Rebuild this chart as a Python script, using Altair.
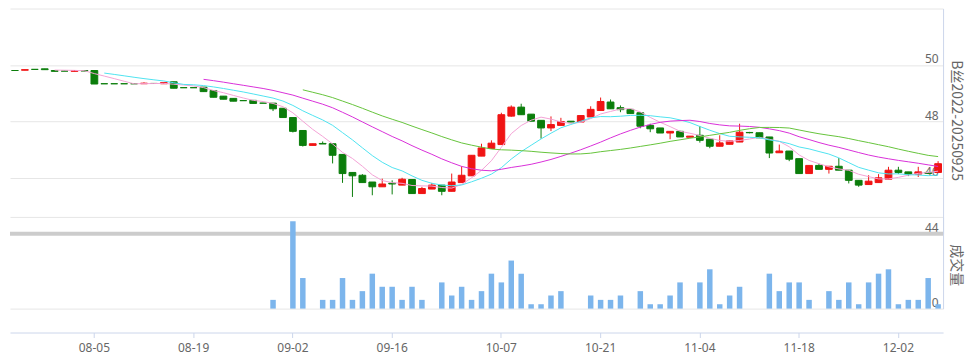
import altair as alt
import pandas as pd

# ---------------- data ----------------
dates = [
    "07-24", "07-25", "07-26", "07-29", "07-30", "07-31", "08-01", "08-02",
    "08-05", "08-06", "08-07", "08-08", "08-09", "08-12", "08-13", "08-14", "08-15", "08-16",
    "08-19", "08-20", "08-21", "08-22", "08-23", "08-26", "08-27", "08-28", "08-29", "08-30",
    "09-02", "09-03", "09-04", "09-05", "09-06", "09-09", "09-10", "09-11", "09-12", "09-13",
    "09-16", "09-17", "09-18", "09-19", "09-20", "09-23", "09-24", "09-25", "09-26", "09-27", "09-30",
    "10-07", "10-08", "10-09", "10-10", "10-11", "10-14", "10-15", "10-16", "10-17", "10-18",
    "10-21", "10-22", "10-23", "10-24", "10-25", "10-28", "10-29", "10-30", "10-31", "11-01",
    "11-04", "11-05", "11-06", "11-07", "11-08", "11-11", "11-12", "11-13", "11-14", "11-15",
    "11-18", "11-19", "11-20", "11-21", "11-22", "11-25", "11-26", "11-27", "11-28", "11-29",
    "12-02", "12-03", "12-04", "12-05", "12-06",
]

opens = [
    49.80, 49.81, 49.84, 49.86, 49.80, 49.78, 49.77, 49.80,
    49.80, 49.33, 49.33, 49.33, 49.33, 49.33, 49.34, 49.33, 49.40, 49.19,
    49.19, 49.21, 49.09, 48.89, 48.81, 48.73, 48.74, 48.64, 48.64, 48.46,
    48.13, 47.67, 47.14, 47.21, 47.20, 46.82, 46.18, 46.08, 45.84, 45.67,
    45.80, 45.73, 45.93, 45.43, 45.59, 45.73, 45.51, 45.82, 46.06, 46.76, 47.03,
    47.17, 48.18, 48.50, 48.25, 48.03, 47.76, 47.85, 48.00, 47.97, 48.15,
    48.38, 48.68, 48.48, 48.42, 48.30, 47.85, 47.76, 47.58, 47.64, 47.43,
    47.50, 47.36, 47.11, 47.18, 47.26, 47.60, 47.59, 47.44, 46.88, 46.94,
    46.67, 46.14, 46.43, 46.29, 46.40, 46.26, 45.90, 45.75, 45.82, 45.94,
    46.26, 46.20, 46.12, 46.18, 46.18,
]
highs = [
    49.80, 49.83, 49.84, 49.86, 49.80, 49.78, 49.80, 49.80,
    49.80, 49.33, 49.33, 49.33, 49.33, 49.38, 49.34, 49.37, 49.40, 49.19,
    49.19, 49.21, 49.09, 48.89, 48.81, 48.73, 48.74, 48.64, 48.64, 48.46,
    48.13, 47.67, 47.20, 47.28, 47.20, 46.82, 46.18, 46.12, 45.84, 45.96,
    45.90, 45.99, 45.93, 45.67, 45.81, 45.73, 46.14, 46.40, 46.79, 47.20, 47.32,
    48.30, 48.56, 48.62, 48.25, 48.03, 48.17, 48.12, 48.00, 48.20, 48.53,
    48.84, 48.77, 48.56, 48.42, 48.30, 47.91, 47.76, 47.64, 47.66, 47.47,
    47.83, 47.36, 47.50, 47.30, 47.91, 47.62, 47.59, 47.44, 47.17, 46.94,
    46.67, 46.43, 46.49, 46.40, 46.69, 46.26, 45.90, 46.08, 46.12, 46.38,
    46.38, 46.20, 46.38, 46.20, 46.58,
]
lows = [
    49.80, 49.81, 49.84, 49.83, 49.77, 49.78, 49.77, 49.78,
    49.32, 49.33, 49.33, 49.33, 49.33, 49.33, 49.34, 49.33, 49.17, 49.19,
    49.19, 49.05, 48.85, 48.78, 48.71, 48.73, 48.63, 48.64, 48.36, 48.13,
    47.60, 47.10, 47.14, 47.19, 46.50, 45.81, 45.31, 45.82, 45.37, 45.67,
    45.40, 45.73, 45.43, 45.43, 45.59, 45.37, 45.51, 45.82, 46.06, 46.76, 47.03,
    47.17, 48.16, 48.23, 48.00, 47.38, 47.65, 47.85, 47.97, 47.97, 48.15,
    48.38, 48.44, 48.32, 48.27, 47.75, 47.61, 47.58, 47.36, 47.44, 47.43,
    47.24, 47.04, 47.11, 47.18, 47.26, 47.57, 47.41, 46.69, 46.88, 46.58,
    46.14, 46.14, 46.29, 46.14, 46.26, 45.79, 45.67, 45.75, 45.82, 45.94,
    46.12, 46.05, 46.02, 46.12, 46.18,
]
closes = [
    49.80, 49.83, 49.84, 49.83, 49.77, 49.78, 49.80, 49.78,
    49.32, 49.33, 49.33, 49.33, 49.33, 49.35, 49.34, 49.37, 49.17, 49.19,
    49.19, 49.05, 48.85, 48.78, 48.71, 48.73, 48.63, 48.64, 48.44, 48.13,
    47.64, 47.14, 47.20, 47.19, 46.79, 46.14, 46.06, 45.82, 45.67, 45.77,
    45.77, 45.94, 45.43, 45.61, 45.73, 45.51, 45.84, 46.08, 46.79, 47.05, 47.22,
    48.23, 48.50, 48.23, 48.00, 47.76, 47.88, 47.99, 47.97, 48.20, 48.42,
    48.70, 48.44, 48.41, 48.27, 47.82, 47.73, 47.58, 47.64, 47.44, 47.47,
    47.32, 47.11, 47.23, 47.30, 47.61, 47.59, 47.41, 46.87, 46.94, 46.65,
    46.14, 46.43, 46.29, 46.40, 46.26, 45.90, 45.73, 45.87, 45.99, 46.26,
    46.18, 46.11, 46.20, 46.15, 46.49,
]
volumes = [
    0, 0, 0, 0, 0, 0, 0, 0,
    0, 0, 0, 0, 0, 0, 0, 0, 0, 0,
    0, 0, 0, 0, 0, 0, 0, 0, 2, 0,
    20, 7, 0, 2, 2, 7, 2, 4, 8, 5,
    5, 2, 5, 2, 0, 6, 3, 5, 2, 4, 8,
    6, 11, 8, 1, 1, 3, 4, 0, 0, 3,
    2, 2, 3, 0, 4, 1, 1, 3, 6, 0,
    6, 9, 1, 3, 5, 0, 0, 8, 4, 6,
    6, 2, 0, 4, 2, 6, 1, 6, 8, 9,
    1, 2, 2, 7, 1,
]

x_tick_labels = ["08-05", "08-19", "09-02", "09-16", "10-07", "10-21", "11-04", "11-18", "12-02"]
price_ticks = [44, 46, 48, 50, 52]
volume_ticks = [0, 21]
divider_value = [44]
ma_periods = [5, 10, 20, 30]
ma_colors = ["#f4a3d6", "#4fe3f0", "#d930d9", "#66c43c"]

price_title = "B丝2022-20250925"
volume_title = "成交量"

# ---------------- table ----------------
df = pd.DataFrame({
    "idx": list(range(len(dates))),
    "date": dates,
    "open": opens,
    "high": highs,
    "low": lows,
    "close": closes,
    "volume": volumes,
})
df["dir"] = ["up" if c > o else "down" for o, c in zip(opens, closes)]
div_df = pd.DataFrame({"v": divider_value})

W, H = 936, 325
FONT = "Noto Sans"
CJK = "Noto Sans CJK SC"

x_scale = alt.Scale(type="band", domain=dates, paddingInner=0, paddingOuter=0)
x_axis = alt.Axis(values=x_tick_labels, labelAngle=0, title=None, grid=False,
                  domainColor="#ccd6eb", tickColor="#ccd6eb", tickSize=5,
                  labelColor="#666666", labelFontSize=12, labelFont=FONT, labelPadding=5)
x_enc = alt.X("date:O", scale=x_scale, axis=x_axis)

price_scale = alt.Scale(domain=[44, 52], range=[226, 0], nice=False, zero=False)
price_axis = alt.Axis(orient="right", values=price_ticks, grid=True, gridColor="#e6e6e6",
                      domainColor="#ccd6eb", ticks=False, tickSize=0,
                      labelExpr="datum.value == 52 ? '' : datum.label",
                      labelAlign="right", labelPadding=-5, labelBaseline="alphabetic",
                      labelOffset=-2, labelColor="#666666", labelFontSize=12, labelFont=FONT,
                      title=price_title, titleAngle=90, titleX=12, titleY=112,
                      titleAlign="center", titleBaseline="middle", titleColor="#666666",
                      titleFontSize=14, titleFontWeight="normal", titleFont=CJK)

color_scale = alt.Scale(domain=["up", "down"], range=["#f01414", "#0b7d0b"])

divider = alt.Chart(div_df).mark_rule(color="#cccccc", strokeWidth=4).encode(
    y=alt.Y("v:Q", scale=price_scale, axis=price_axis)
)

wicks = alt.Chart(df).mark_rule(strokeWidth=1).encode(
    x=x_enc,
    y=alt.Y("low:Q", scale=price_scale, axis=price_axis),
    y2="high:Q",
    color=alt.Color("dir:N", scale=color_scale, legend=None),
)

bodies = alt.Chart(df).mark_bar(width=6.8, strokeWidth=1).encode(
    x=x_enc,
    y=alt.Y("open:Q", scale=price_scale, axis=price_axis),
    y2="close:Q",
    color=alt.Color("dir:N", scale=color_scale, legend=None),
    stroke=alt.Stroke("dir:N", scale=color_scale, legend=None),
)

ma_layers = []
for n, col in zip(ma_periods, ma_colors):
    ma_layers.append(
        alt.Chart(df).transform_window(
            ma="mean(close)", cnt="count()", frame=[-(n - 1), 0],
            sort=[alt.SortField("idx")]
        ).transform_filter(alt.datum.cnt >= n).mark_line(color=col, strokeWidth=1).encode(
            x=x_enc,
            y=alt.Y("ma:Q", scale=price_scale, axis=price_axis),
        )
    )

price = alt.layer(divider, wicks, bodies, *ma_layers)

vol_axis = alt.Axis(orient="right", values=volume_ticks, grid=True, gridColor="#e6e6e6",
                    domainColor="#ccd6eb", ticks=False, tickSize=0,
                    labelExpr="datum.value == 0 ? '0' : ''",
                    labelAlign="right", labelPadding=-5, labelBaseline="alphabetic",
                    labelOffset=-2, labelColor="#666666", labelFontSize=12, labelFont=FONT,
                    title=volume_title, titleAngle=90, titleX=12, titleY=257,
                    titleAlign="center", titleBaseline="middle", titleColor="#666666",
                    titleFontSize=14, titleFontWeight="normal", titleFont=CJK)

vol = alt.Chart(df).mark_bar(width=5.5, color="#7cb5ec").encode(
    x=x_enc,
    y=alt.Y("volume:Q", scale=alt.Scale(domain=[0, 21], range=[301, 209], nice=False),
            axis=vol_axis),
)

chart = alt.layer(price, vol).resolve_scale(y="independent").properties(
    width=W, height=H,
    padding={"left": 0, "top": 0, "right": 3, "bottom": 4},
    background="white",
).configure_view(stroke=None)

chart.save("out.html", embed_options={"renderer": "svg", "actions": False})
